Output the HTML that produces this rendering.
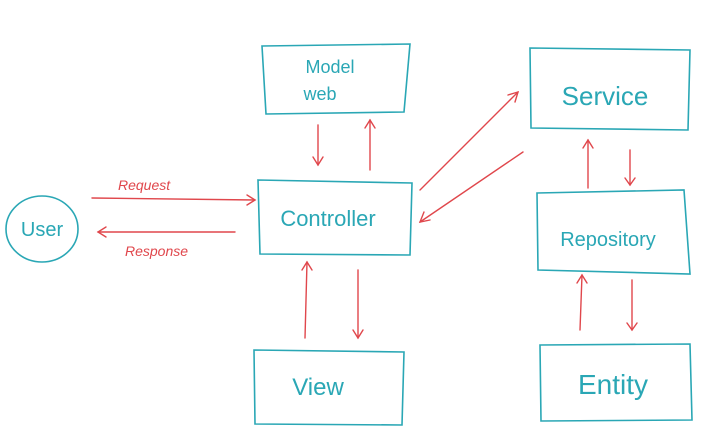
<!DOCTYPE html>
<html><head><style>html,body{margin:0;padding:0;background:#fff;}svg{display:block}</style></head>
<body>
<svg width="718" height="438" viewBox="0 0 718 438" xmlns="http://www.w3.org/2000/svg">
<g fill="none" stroke="#2aa7b5" stroke-width="1.6" stroke-linecap="round">
<ellipse cx="42" cy="229" rx="36" ry="33"/>
<path d="M262 46 L410 44 L404 112 L266 114 Z"/>
<path d="M258 180 L412 183 L410 255 L260 254 Z"/>
<path d="M254 350 L404 352 L402 425 L255 424 Z"/>
<path d="M530 48 L690 50 L688 130 L531 128 Z"/>
<path d="M537 193 L684 190 L690 274 L538 270 Z"/>
<path d="M540 345 L690 344 L692 420 L541 421 Z"/>
</g>
<g font-family="'Liberation Sans',sans-serif" fill="#2aa7b5" text-anchor="middle">
<text x="42" y="236" font-size="20">User</text>
<text x="330" y="73" font-size="18">Model</text>
<text x="320" y="100" font-size="18">web</text>
<text x="328" y="226" font-size="22">Controller</text>
<text x="318" y="395" font-size="24">View</text>
<text x="605" y="105" font-size="26">Service</text>
<text x="608" y="246" font-size="20">Repository</text>
<text x="613" y="394" font-size="28">Entity</text>
</g>
<g fill="none" stroke="#e0474c" stroke-width="1.4" stroke-linecap="round">
<path d="M92 198 L255 200"/><path d="M247 195 L255 200 L247 205"/>
<path d="M235 232 L98 232"/><path d="M106 227 L98 232 L106 237"/>
<path d="M318 125 L318 165"/><path d="M313 157 L318 165 L323 157"/>
<path d="M370 170 L370 120"/><path d="M365 128 L370 120 L375 128"/>
<path d="M305 338 L307 262"/><path d="M302 270 L307 262 L312 270"/>
<path d="M358 270 L358 338"/><path d="M353 330 L358 338 L363 330"/>
<path d="M420 190 L518 92"/><path d="M508 95 L518 92 L515 102"/>
<path d="M523 152 L420 222"/><path d="M424 212 L420 222 L430 220"/>
<path d="M588 188 L588 140"/><path d="M583 148 L588 140 L593 148"/>
<path d="M630 150 L630 185"/><path d="M625 178 L630 185 L635 178"/>
<path d="M580 330 L582 275"/><path d="M577 283 L582 275 L587 283"/>
<path d="M632 280 L632 330"/><path d="M627 323 L632 330 L637 323"/>
</g>
<g font-family="'Liberation Sans',sans-serif" fill="#e0474c" font-size="14" font-style="italic">
<text x="118" y="190">Request</text>
<text x="125" y="256">Response</text>
</g>
</svg>
</body></html>
